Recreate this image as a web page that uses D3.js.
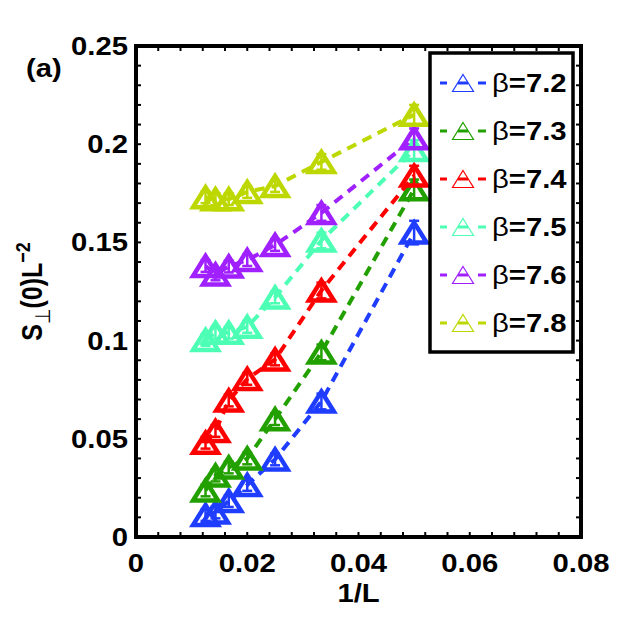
<!DOCTYPE html>
<html lang="en">
  <head>
    <meta charset="utf-8">
    <title>S_perp(0) L^-2 vs 1/L</title>
    <script src="https://d3js.org/d3.v7.min.js"></script>
    <style>
      body { margin: 0; background: #fff; }
      text { font-family: "Liberation Sans", Arial, Helvetica, sans-serif; font-weight: bold; fill: #000; }
    </style>
  </head>
  <body>
    <div id="container"></div>
    <script>
      width = 623;
      height = 624;
      margin = ({top: 46, right: 42, bottom: 87, left: 136});
      stretch = 1.17; // the original figure is a bit wider than tall

      // 1/L for L = 80, 70, 60, 50, 40, 30, 20
      invL = [0.0125, 0.01429, 0.01667, 0.02, 0.025, 0.03333, 0.05];
      betas = ["7.2", "7.3", "7.4", "7.5", "7.6", "7.8"];

      b72 = [0.0112, 0.0125, 0.0183, 0.0265, 0.0395, 0.069, 0.155];
      b73 = [0.0237, 0.0313, 0.0354, 0.0400, 0.060, 0.094, 0.177];
      b74 = [0.048, 0.054, 0.0695, 0.0805, 0.0904, 0.1255, 0.184];
      b75 = [0.1003, 0.104, 0.104, 0.107, 0.122, 0.151, 0.197];
      b76 = [0.138, 0.1337, 0.1377, 0.141, 0.1487, 0.165, 0.203];
      b78 = [0.173, 0.172, 0.172, 0.1757, 0.1787, 0.191, 0.215];

      e72 = [0.003, 0.003, 0.003, 0.003, 0.003, 0.004, 0.006];
      e73 = [0.003, 0.003, 0.003, 0.003, 0.003, 0.004, 0.005];
      e74 = [0.003, 0.003, 0.003, 0.003, 0.003, 0.004, 0.005];
      e75 = [0.003, 0.003, 0.003, 0.003, 0.003, 0.004, 0.005];
      e76 = [0.003, 0.003, 0.003, 0.003, 0.003, 0.004, 0.005];
      e78 = [0.003, 0.003, 0.003, 0.003, 0.003, 0.004, 0.005];

      xTicks = [0, 0.02, 0.04, 0.06, 0.08];
      yTicks = [0, 0.05, 0.1, 0.15, 0.2, 0.25];
      xTickLabels = ["0", "0.02", "0.04", "0.06", "0.08"];
      yTickLabels = ["0", "0.05", "0.1", "0.15", "0.2", "0.25"];

      colors = ["#1f3dff", "#22a000", "#ff0000", "#4dffb4", "#a020ff", "#bcd800"];

      vals = [b72, b73, b74, b75, b76, b78];
      errs = [e72, e73, e74, e75, e76, e78];
      series = betas.map((b, i) => ({
        beta: b,
        color: colors[i],
        points: invL.map((x, j) => ({x: x, y: vals[i][j], e: errs[i][j]}))
      }));

      x = d3.scaleLinear().domain([0, 0.08]).range([margin.left, width - margin.right]);
      y = d3.scaleLinear().domain([0, 0.25]).range([height - margin.bottom, margin.top]);

      tri = (w, h) => `M0,${-h / 2}L${w / 2},${h / 2}L${-w / 2},${h / 2}Z`;

      chart = (function() {
        const svg = d3.create("svg")
            .attr("width", width)
            .attr("height", height)
            .attr("viewBox", [0, 0, width, height]);

        svg.append("rect")
            .attr("width", width).attr("height", height).attr("fill", "#fff");

        // data
        const line = d3.line().x(d => x(d.x)).y(d => y(d.y));
        const g = svg.append("g");
        series.forEach(s => {
          const sg = g.append("g");
          sg.append("path")
              .datum(s.points)
              .attr("d", line)
              .attr("fill", "none")
              .attr("stroke", s.color)
              .attr("stroke-width", 4)
              .attr("stroke-dasharray", "10,7");
          const eb = sg.append("g")
              .attr("stroke", s.color)
              .attr("stroke-width", 2.5)
            .selectAll("g")
            .data(s.points)
            .join("g");
          eb.append("line")
              .attr("x1", d => x(d.x)).attr("x2", d => x(d.x))
              .attr("y1", d => y(d.y - d.e)).attr("y2", d => y(d.y + d.e));
          eb.append("line")
              .attr("x1", d => x(d.x) - 5).attr("x2", d => x(d.x) + 5)
              .attr("y1", d => y(d.y - d.e)).attr("y2", d => y(d.y - d.e));
          eb.append("line")
              .attr("x1", d => x(d.x) - 5).attr("x2", d => x(d.x) + 5)
              .attr("y1", d => y(d.y + d.e)).attr("y2", d => y(d.y + d.e));
          sg.append("g")
            .selectAll("path")
            .data(s.points)
            .join("path")
              .attr("transform", d => `translate(${x(d.x)},${y(d.y)})`)
              .attr("d", tri(25, 20))
              .attr("fill", "none")
              .attr("stroke", s.color)
              .attr("stroke-width", 4.5)
              .attr("stroke-linejoin", "miter");
        });

        // axes: ticks inward on all four sides
        const x0 = margin.left, x1 = width - margin.right;
        const y0 = height - margin.bottom, y1 = margin.top;
        const xMinor = d3.range(0, 0.0801, 0.004);
        const yMinor = d3.range(0, 0.2501, 0.01);

        const ax = svg.append("g").attr("stroke", "#000").attr("stroke-width", 2);
        ax.selectAll(".xt").data(xMinor).join("line")
            .attr("x1", d => x(d)).attr("x2", d => x(d))
            .attr("y1", y0).attr("y2", y0 - 5);
        ax.selectAll(".xtt").data(xMinor).join("line")
            .attr("x1", d => x(d)).attr("x2", d => x(d))
            .attr("y1", y1).attr("y2", y1 + 5);
        ax.selectAll(".yt").data(yMinor).join("line")
            .attr("y1", d => y(d)).attr("y2", d => y(d))
            .attr("x1", x0).attr("x2", x0 + 5);
        ax.selectAll(".ytr").data(yMinor).join("line")
            .attr("y1", d => y(d)).attr("y2", d => y(d))
            .attr("x1", x1).attr("x2", x1 - 5);

        svg.append("rect")
            .attr("x", x0).attr("y", y1)
            .attr("width", x1 - x0).attr("height", y0 - y1)
            .attr("fill", "none")
            .attr("stroke", "#000")
            .attr("stroke-width", 4);

        // tick labels
        svg.append("g").selectAll("text")
          .data(xTicks)
          .join("text")
            .attr("transform", d => `translate(${x(d)},${y0 + 35}) scale(${stretch},1)`)
            .attr("text-anchor", "middle")
            .attr("font-size", 25)
            .text((d, i) => xTickLabels[i]);
        svg.append("g").selectAll("text")
          .data(yTicks)
          .join("text")
            .attr("transform", d => `translate(${x0 - 8},${y(d) + 9}) scale(${stretch},1)`)
            .attr("text-anchor", "end")
            .attr("font-size", 25)
            .text((d, i) => yTickLabels[i]);

        // axis titles
        svg.append("text")
            .attr("transform", `translate(${(x0 + x1) / 2},602) scale(${stretch},1)`)
            .attr("text-anchor", "middle")
            .attr("font-size", 25)
            .text("1/L");

        const yl = svg.append("text")
            .attr("transform", `translate(42,${(y0 + y1) / 2}) rotate(-90) scale(1,${stretch})`)
            .attr("text-anchor", "middle")
            .attr("font-size", 25);
        yl.append("tspan").text("S");
        yl.append("tspan").attr("font-size", 18).attr("font-weight", "normal")
            .attr("dy", 7).text("\u22a5");
        yl.append("tspan").attr("dy", -7).text("(0)L");
        yl.append("tspan").attr("font-size", 18).attr("dy", -10).text("\u22122");

        svg.append("text")
            .attr("transform", `translate(26,77) scale(${stretch},1)`)
            .attr("font-size", 25)
            .text("(a)");

        // legend
        const lg = svg.append("g");
        lg.append("rect")
            .attr("x", 430).attr("y", 53)
            .attr("width", 143).attr("height", 299)
            .attr("fill", "#fff")
            .attr("stroke", "#000")
            .attr("stroke-width", 3.5);
        const items = lg.selectAll("g.item")
          .data(series)
          .join("g")
            .attr("class", "item")
            .attr("transform", (d, i) => `translate(0,${83 + i * 48})`);
        items.append("line")
            .attr("x1", 440).attr("x2", 486)
            .attr("stroke", d => d.color)
            .attr("stroke-width", 3)
            .attr("stroke-dasharray", "7,11,10,10,8");
        items.append("path")
            .attr("transform", "translate(463,0)")
            .attr("d", tri(21, 17))
            .attr("fill", "none")
            .attr("stroke", d => d.color)
            .attr("stroke-width", 1.2);
        const lt = items.append("text")
            .attr("transform", `translate(492,9) scale(${stretch},1)`)
            .attr("font-size", 25);
        lt.append("tspan").attr("font-weight", "normal").text("\u03b2");
        lt.append("tspan").text(d => "=" + d.beta);

        return svg.node();
      })();

      d3.select("#container").append(() => chart);
    </script>
  </body>
</html>
